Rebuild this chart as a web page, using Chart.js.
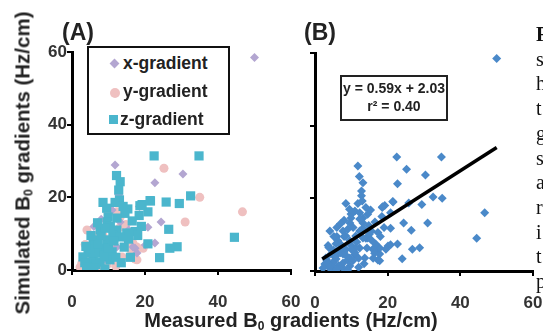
<!DOCTYPE html>
<html>
<head>
<meta charset="utf-8">
<script src="https://cdn.jsdelivr.net/npm/chart.js@4"></script>
<style>
  body { margin: 0; background: #fff; width: 543px; height: 332px; overflow: hidden; position: relative;
         font-family: "Liberation Sans", Arial, sans-serif; color: #222; }
  canvas { position: absolute; top: 0; }
  #chartA { left: 0; }
  #chartB { left: 243px; }
  .lbl { position: absolute; font-weight: bold; white-space: nowrap; }
  .panel { font-size: 23px; top: 19px; color: #222; }
  #ytitle { font-size: 20.5px; left: 23px; top: 163px; transform: translate(-50%, -50%) rotate(-90deg); }
  #xtitle { font-size: 20px; left: 291px; top: 321px; transform: translate(-50%, -50%); }
  sub { font-size: 0.6em; vertical-align: -0.25em; }
  #legend { position: absolute; left: 87px; top: 46px; width: 139px; height: 85px; border: 2px solid #111; background: #fff; }
  .item { position: absolute; font-weight: bold; font-size: 17.5px; white-space: nowrap; }
  .mk { position: absolute; }
  #eq { position: absolute; left: 340px; top: 75px; width: 104px; height: 40px; border: 2px solid #222;
        font-weight: bold; font-size: 14px; text-align: center; line-height: 18px; padding-top: 2px;
        color: #222; white-space: nowrap; }
  #side { position: absolute; left: 536px; top: 22px; font-family: "Liberation Serif", "DejaVu Serif", serif;
          font-size: 20px; line-height: 24.7px; color: #111; }
</style>
</head>
<body>
<canvas id="chartA" width="300" height="332"></canvas>
<canvas id="chartB" width="300" height="332"></canvas>

<div class="lbl panel" style="left:62px">(A)</div>
<div class="lbl panel" style="left:304px">(B)</div>
<div class="lbl" id="ytitle">Simulated B<sub>0</sub> gradients (Hz/cm)</div>
<div class="lbl" id="xtitle">Measured B<sub>0</sub> gradients (Hz/cm)</div>

<div id="legend"></div>
<div class="mk" style="left:111px;top:60px;width:7px;height:7px;background:#b3a6d1;transform:rotate(45deg)"></div>
<div class="item" style="left:123px;top:53px">x-gradient</div>
<div class="mk" style="left:110px;top:88px;width:10px;height:10px;border-radius:50%;background:#efc0c0"></div>
<div class="item" style="left:123px;top:81px">y-gradient</div>
<div class="mk" style="left:109px;top:115px;width:9px;height:9px;background:#4bb6cd"></div>
<div class="item" style="left:120px;top:109px">z-gradient</div>

<div id="eq">y = 0.59x + 2.03<br>r² = 0.40</div>

<div id="side"><b>F</b><br>s<br>h<br>t<br>g<br>s<br>a<br>r<br>i<br>t<br>p</div>

<script>
// measured vs simulated gradients, Hz/cm, [measured, simulated]
const xGrad = [[50,58.5],[11.8,28.9],[30.4,26.4],[22.7,24],[24.4,13.2],[20.8,11.8],[22.7,7.4],[17.3,6],
  [17.8,4.7],[12.3,6.3],[16.7,6.3],[13.2,13.2],[18.5,17.5],[7,5],[9,3],[5,2.5],[10,7],[14,9],[6,12],
  [8,14],[15.5,11],[3.5,1.5],[20.1,6.9],[12.8,20.7],[11,16.5]];
const yGrad = [[25.2,28],[35,20],[46.7,16],[31,13.2],[4.1,11],[3.6,7],[2.7,1.9],[4.4,1.4],[6.8,1.2],
  [9.6,1.4],[13.7,3.6],[17.8,2.8],[11.2,6.3],[17.8,6.3],[13.2,11.8],[10.4,16],[14.5,9.1],[16.7,7.4],
  [2.2,0.8],[12.3,16],[9.9,15.7],[7.7,0.8],[8.5,9.6],[15.9,6],[13.2,14.6],[19.5,6],[5.5,4],[3.2,3],
  [6,9.5],[11,4.5],[8,5.2],[14.8,12.5],[17.3,3],[16.4,4.9],[12,1],[5,0.5]];
const zGrad = [[22.5,31.4],[34.8,31.4],[32.5,20.4],[29.4,18.3],[25.8,18.7],[21.5,19],[20.8,16],[19.2,18],
  [18.4,15],[44.5,9],[26.5,11.2],[28.8,6.4],[26.8,6],[24,3.4],[20.8,7.2],[12.2,26],[13.2,24.3],[12.8,22],
  [13,19.3],[11.8,18.6],[8.5,18.6],[15.3,16.8],[14.5,15.6],[17.3,10.6],[15,10.2],[14.3,6.3],[9.9,14.6],
  [9.6,13.2],[12.3,14.3],[7.7,11],[12.3,11],[6.3,8.3],[9.6,8.3],[11.2,9.6],[13.2,9.1],[4.4,4.7],[5.8,3.3],
  [7.7,4.7],[9.6,3.6],[7.7,2.2],[4.9,2.2],[11,5],[8.5,6],[3,3.6],[6.8,6],[6.3,4.7],[10.4,2.8],[5.8,7.5],
  [8,9.5],[10.5,12],[3.5,2],[5,5.8],[6.5,1.5],[8.8,4],[10,6],[12,3.5],[7.2,7.2],[5.2,9.5],[9,11.5],
  [11.5,8],[4,0.8],[13.5,2],[16,3.5],[15.5,8.5],[18,9.5],[19,12],[16.5,13.5],[14,17.5],[9.5,17],[7,13],
  [3.8,6.5],[6,0.5],[9,0.3],[21.4,19.1],[18.6,17.7]];
// trendline ends
const fitLine = [[2,3.3],[50,34]];

const xTicks = [0, 20, 40, 60];
const yTicks = [0, 20, 40, 60];

const tickFont = { family: '"Liberation Sans", Arial, sans-serif', size: 17, weight: 'bold' };

function toPts(arr) {
  return arr.map(p => ({ x: p[0], y: p[1] }));
}

function makeScales(top, showY) {
  return {
    x: {
      type: 'linear', min: xTicks[0], max: xTicks[xTicks.length - 1],
      afterBuildTicks: s => { s.ticks = xTicks.map(v => ({ value: v })); },
      afterFit: s => { s.height = 332 - top; s.paddingLeft = 0; s.paddingRight = 0; },
      border: { display: true, color: '#000', width: 3 },
      grid: { drawOnChartArea: false, drawTicks: true, tickLength: 5, color: '#000', lineWidth: 2 },
      ticks: { font: tickFont, color: '#333', padding: 17, maxRotation: 0 }
    },
    y: {
      type: 'linear', min: yTicks[0], max: yTicks[yTicks.length - 1],
      afterBuildTicks: s => { s.ticks = yTicks.map(v => ({ value: v })); },
      afterFit: s => { s.width = 72; s.paddingTop = 0; s.paddingBottom = 0; },
      border: { display: true, color: '#000', width: 3 },
      grid: { drawOnChartArea: false, drawTicks: true, tickLength: 5, color: '#000', lineWidth: 2 },
      ticks: { display: showY, font: tickFont, color: '#333', padding: 0 }
    }
  };
}

function baseOptions(padTop, padRight, bottomAt, showY) {
  return {
    responsive: false,
    animation: false,
    layout: { padding: { top: padTop, right: padRight, left: 0, bottom: 0 } },
    plugins: { legend: { display: false }, tooltip: { enabled: false } },
    scales: makeScales(bottomAt, showY)
  };
}

new Chart(document.getElementById('chartA'), {
  type: 'scatter',
  data: {
    datasets: [
      { label: 'z-gradient', data: toPts(zGrad), pointStyle: 'rect', pointRadius: 6.5,
        backgroundColor: '#4bb6cd', borderWidth: 0, order: 1 },
      { label: 'x-gradient', data: toPts(xGrad), pointStyle: 'rectRot', pointRadius: 4.5,
        backgroundColor: '#b3a6d1', borderWidth: 0, order: 2 },
      { label: 'y-gradient', data: toPts(yGrad), pointStyle: 'circle', pointRadius: 4.5,
        backgroundColor: '#efc0c0', borderWidth: 0, order: 3 }
    ]
  },
  options: baseOptions(52, 9, 270, true)
});

new Chart(document.getElementById('chartB'), {
  type: 'scatter',
  data: {
    datasets: [
      { type: 'line', label: 'fit', data: toPts(fitLine), borderColor: '#000', borderWidth: 3.5,
        pointRadius: 0, fill: false, order: 0 },
      { label: 'all', data: toPts(xGrad.concat(yGrad, zGrad)), pointStyle: 'rectRot', pointRadius: 4.5,
        backgroundColor: '#4a89c9', borderWidth: 0, order: 1 }
    ]
  },
  options: baseOptions(53, 10, 271, false)
});
</script>
</body>
</html>
